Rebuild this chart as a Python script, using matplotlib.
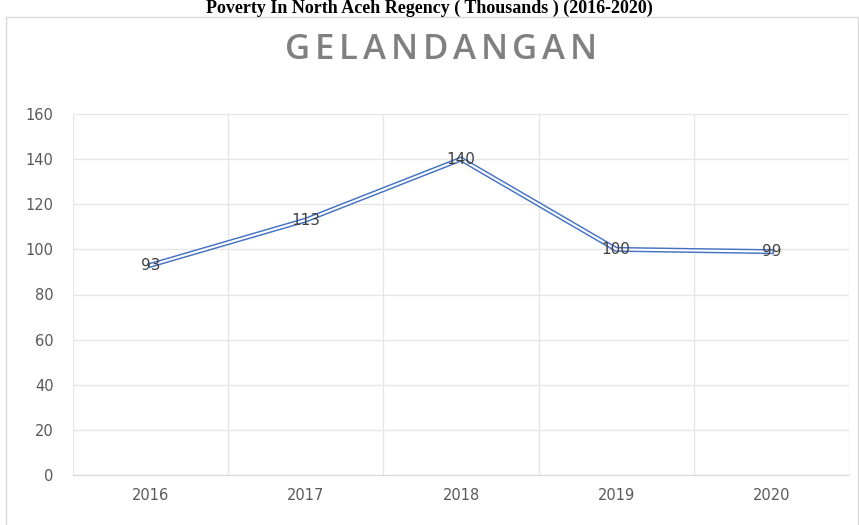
import matplotlib.pyplot as plt
from matplotlib.patches import Rectangle

years = ['2016', '2017', '2018', '2019', '2020']
values = [93, 113, 140, 100, 99]
yticks = [0, 20, 40, 60, 80, 100, 120, 140, 160]

W, H = 859, 525
fig = plt.figure(figsize=(W / 100, H / 100), dpi=100)

# chart frame
fig.patches.append(Rectangle((6 / W, -0.05), 852 / W, (H - 17) / H + 0.05,
                             transform=fig.transFigure, fill=False,
                             edgecolor='#d9d9d9', linewidth=1))

fig.text(0.5, 1.0 - 13 / H, 'Poverty In North Aceh Regency ( Thousands ) (2016-2020)',
         ha='center', va='baseline', fontsize=13, fontweight='bold',
         family='Liberation Serif', color='black')

# letter-spaced chart title
title = 'GELANDANGAN'
r = fig.canvas.get_renderer()
kw = dict(fontsize=25, fontweight='semibold', color='#808080', family='Open Sans',
          va='center', ha='left')
widths = []
for ch in title:
    t = fig.text(0, 0, ch, **kw)
    widths.append(t.get_window_extent(r).width)
    t.remove()
target = 312
gap = (target - sum(widths)) / (len(title) - 1)
xpos = 441 - target / 2
for ch, w in zip(title, widths):
    fig.text(xpos / W, 1.0 - 50 / H, ch, **kw)
    xpos += w + gap

ax = fig.add_axes([73 / W, 50 / H, 776 / W, 361 / H])
x = list(range(len(years)))
ax.plot(x, values, color='#4472c4', linewidth=3.6, solid_joinstyle='miter', zorder=3)
ax.plot(x, values, color='white', linewidth=1.5, solid_joinstyle='miter', zorder=4)

for xi, v in zip(x, values):
    ax.text(xi, v, str(v), ha='center', va='center', fontsize=11,
            color='#404040', zorder=5)

ax.set_xlim(-0.5, len(years) - 0.5)
ax.set_ylim(0, 160)
ax.set_yticks(yticks)
ax.set_xticks(x)
ax.set_xticklabels(years)
ax.set_xticks([i - 0.5 for i in range(len(years) + 1)], minor=True)
ax.grid(True, axis='y', color='#e6e6e6', linewidth=1)
ax.grid(True, axis='x', which='minor', color='#e6e6e6', linewidth=1)
ax.set_axisbelow(True)
ax.tick_params(axis='both', which='both', length=0, labelsize=10.5,
               labelcolor='#595959')
ax.tick_params(axis='y', pad=14)
ax.tick_params(axis='x', pad=9)
for s in ['top', 'right', 'left']:
    ax.spines[s].set_visible(False)
ax.spines['bottom'].set_color('#d9d9d9')

fig.savefig('out.png', dpi=100)
